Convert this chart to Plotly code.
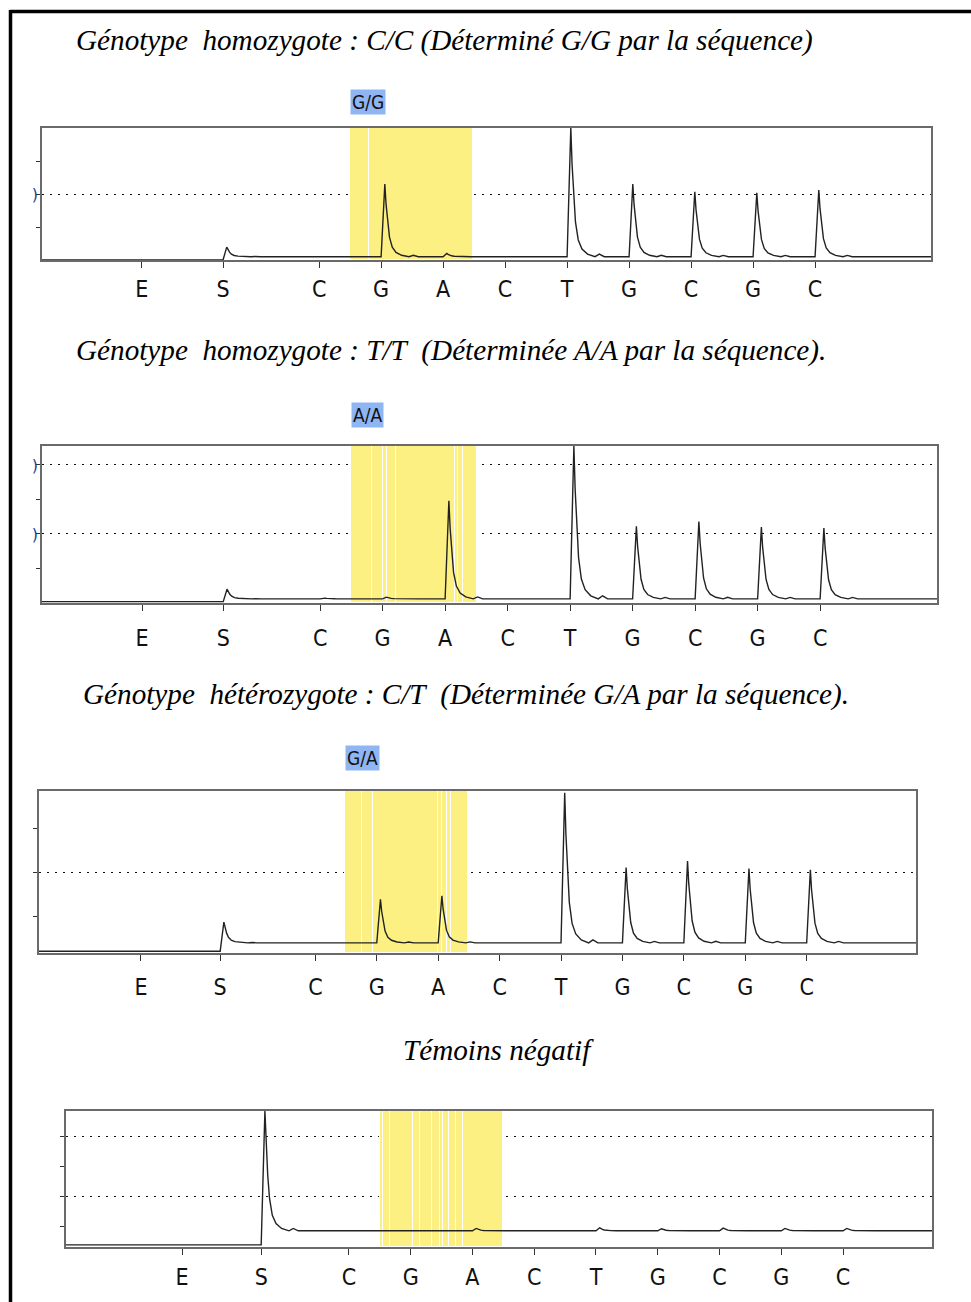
import plotly.graph_objects as go

W, H = 971, 1302

# ---------------- data ----------------
dispensations = ["E", "S", "C", "G", "A", "C", "T", "G", "C", "G", "C"]

titles = [
    "Génotype\u00a0 homozygote : C/C (Déterminé G/G par la séquence)",
    "Génotype\u00a0 homozygote : T/T\u00a0 (Déterminée A/A par la séquence).",
    "Génotype\u00a0 hétérozygote : C/T\u00a0 (Déterminée G/A par la séquence).",
    "Témoins négatif",
]
genotype_labels = ["G/G", "A/A", "G/A", None]

# dispensation times (x units) per panel
p1_times = [1.61, 2.92, 4.47, 5.47, 6.47, 7.47, 8.47, 9.47, 10.47, 11.47, 12.47]
p2_times = [1.60, 2.90, 4.45, 5.45, 6.45, 7.45, 8.45, 9.45, 10.45, 11.45, 12.45]
p3_times = [1.66, 2.95, 4.50, 5.50, 6.50, 7.50, 8.50, 9.50, 10.50, 11.50, 12.50]
p4_times = [1.88, 3.16, 4.58, 5.58, 6.58, 7.58, 8.58, 9.58, 10.58, 11.58, 12.58]

# peak signal read at each dispensation (E entry = level before substrate)
p1_peaks = [0.00, 0.39, 0.10, 2.30, 0.20, 0.10, 4.00, 2.30, 2.07, 2.04, 2.12]
p2_peaks = [0.04, 0.40, 0.15, 0.17, 2.96, 0.12, 4.55, 2.22, 2.36, 2.20, 2.17]
p3_peaks = [0.22, 0.88, 0.41, 1.40, 1.48, 0.41, 3.82, 2.12, 2.27, 2.10, 2.07]
p4_peaks = [0.37, 4.84, 0.84, 0.86, 0.92, 0.84, 0.94, 0.91, 0.93, 0.92, 0.92]

# baseline after the substrate dispensation
baselines = [0.10, 0.12, 0.41, 0.84]

# peak shape (offset after dispensation, fraction of height)
shape_dx = [0.00, 0.06, 0.08, 0.105, 0.135, 0.18, 0.24, 0.33, 0.45, 0.52, 0.60]
shape_fr = [0.00, 1.00, 0.72, 0.47, 0.27, 0.13, 0.06, 0.02, 0.00, 0.02, 0.00]

# x / y ranges
x_ranges = [[0, 14.34], [0, 14.32], [0, 14.28], [0, 14.02]]
y_ranges = [[0, 4.0], [0, 4.55], [0.18, 3.86], [0.30, 4.84]]
grid_vals = [[2], [2, 4], [2], [2, 4]]
grid_text = [[")"], [")", ")"], [""], ["", ""]]
minor_vals = [[1, 3], [1, 3], [1, 3], [1, 3]]

# highlighted SNP region edges (start, white seams..., end)
band_edges = [
    [4.97, 5.27, 6.95],
    [4.94, 5.28, 5.46, 5.52, 5.66, 6.60, 6.65, 6.73, 6.955],
    [4.98, 5.26, 5.44, 6.50, 6.56, 6.64, 6.71, 6.98],
    [5.09, 5.13, 5.25, 5.61, 5.73, 5.93, 6.06, 6.10, 6.20, 6.31, 6.42, 7.08],
]

times_all = [p1_times, p2_times, p3_times, p4_times]
peaks_all = [p1_peaks, p2_peaks, p3_peaks, p4_peaks]

# ---------------- layout geometry (pixels) ----------------
boxes = [  # left, right, top, bottom
    (42, 931, 128, 260),
    (42, 937, 446, 603),
    (39, 916, 791, 953),
    (66, 932, 1111, 1247),
]
label_standoff = [2, 8, 7, 3]
title_pos = [(74, 41), (74, 350), (81, 694), (401, 1050)]
label_y = [102, 415, 758]

YELLOW = "#FDF082"
BLUE = "#8FB5F3"
NARROW = "Liberation Sans Narrow, DejaVu Sans Condensed, Arial Narrow, sans-serif"


def build_signal(times, peaks, base, xmax):
    pre = peaks[0]
    xs, ys = [0.0], [pre]
    for i in range(1, len(times)):
        v = peaks[i]
        if abs(v - base) < 1e-9:
            continue
        for k, (dx, f) in enumerate(zip(shape_dx, shape_fr)):
            y = base + (v - base) * f
            if i == 1 and k == 0:
                y = pre
            xs.append(times[i] + dx)
            ys.append(y)
    xs.append(xmax)
    ys.append(base)
    return xs, ys


fig = go.Figure()
shapes = []
annotations = []

for p in range(4):
    sfx = "" if p == 0 else str(p + 1)
    xa, ya = "x" + sfx, "y" + sfx
    left, right, top, bottom = boxes[p]
    y0, y1 = y_ranges[p]

    # yellow SNP region as bar segments (white seams between them)
    e = band_edges[p]
    centers = [(a + b) / 2 for a, b in zip(e[:-1], e[1:])]
    widths = [b - a for a, b in zip(e[:-1], e[1:])]
    fig.add_trace(go.Bar(
        x=centers, y=[y1 - y0] * len(centers), base=[y0] * len(centers), width=widths,
        xaxis=xa, yaxis=ya, marker=dict(color=YELLOW, line=dict(color="white", width=1)),
        showlegend=False, hoverinfo="skip",
    ))

    xs, ys = build_signal(times_all[p], peaks_all[p], baselines[p], x_ranges[p][1])
    fig.add_trace(go.Scatter(
        x=xs, y=ys, mode="lines", xaxis=xa, yaxis=ya,
        line=dict(color="#222222", width=1.4), showlegend=False, hoverinfo="skip",
    ))

    fig.layout["xaxis" + sfx] = dict(
        domain=[left / W, right / W], anchor=ya, range=x_ranges[p],
        showgrid=False, zeroline=False, showline=True, mirror=True,
        linecolor="#6a6a6a", linewidth=1.5,
        tickmode="array", tickvals=times_all[p], ticktext=dispensations,
        ticks="outside", ticklen=6, tickcolor="#333", tickwidth=1,
        ticklabelstandoff=label_standoff[p],
        tickfont=dict(family=NARROW, size=23, color="#111"),
        fixedrange=True,
    )
    fig.layout["yaxis" + sfx] = dict(
        domain=[1 - bottom / H, 1 - top / H], anchor=xa, range=y_ranges[p],
        zeroline=False, showline=True, mirror=True,
        linecolor="#6a6a6a", linewidth=1.5,
        tickmode="array", tickvals=grid_vals[p], ticktext=grid_text[p],
        ticks="outside", ticklen=4, tickcolor="#333", tickwidth=1,
        ticklabelstandoff=-5,
        tickfont=dict(family="DejaVu Sans", size=16, color="#1f3f9a"),
        showgrid=True, gridcolor="#111", gridwidth=1.3, griddash="2px,6px",
        minor=dict(tickmode="array", tickvals=minor_vals[p], ticks="outside",
                   ticklen=4, tickcolor="#333", tickwidth=1, showgrid=False),
        fixedrange=True,
    )

    # title
    tx, ty = title_pos[p]
    annotations.append(dict(
        text="<i>" + titles[p] + "</i>", xref="paper", yref="paper",
        x=tx / W, y=1 - ty / H, xanchor="left", yanchor="middle", showarrow=False,
        font=dict(family="Liberation Serif, Times New Roman, serif", size=29.2, color="black"),
    ))
    # genotype label
    if genotype_labels[p]:
        annotations.append(dict(
            text=genotype_labels[p], xref=xa, yref="paper", x=e[0], y=1 - label_y[p] / H,
            xanchor="left", yanchor="middle", showarrow=False, bgcolor=BLUE, borderpad=1,
            font=dict(family=NARROW, size=19, color="#111"),
        ))

# page frame (top and left rules)
shapes.append(dict(type="line", xref="paper", yref="paper", x0=10 / W, x1=1, y0=1 - 11.5 / H, y1=1 - 11.5 / H,
                   line=dict(color="black", width=3.5), layer="above"))
shapes.append(dict(type="line", xref="paper", yref="paper", x0=10.5 / W, x1=10.5 / W, y0=0, y1=1 - 10 / H,
                   line=dict(color="black", width=3.5), layer="above"))

fig.update_layout(
    width=W, height=H, margin=dict(l=0, r=0, t=0, b=0),
    paper_bgcolor="white", plot_bgcolor="white", bargap=0,
    shapes=shapes, annotations=annotations, showlegend=False,
)

fig.write_html("out.html", config={"displayModeBar": False},
               post_script="document.body.style.margin='0';document.body.style.overflow='hidden';")
